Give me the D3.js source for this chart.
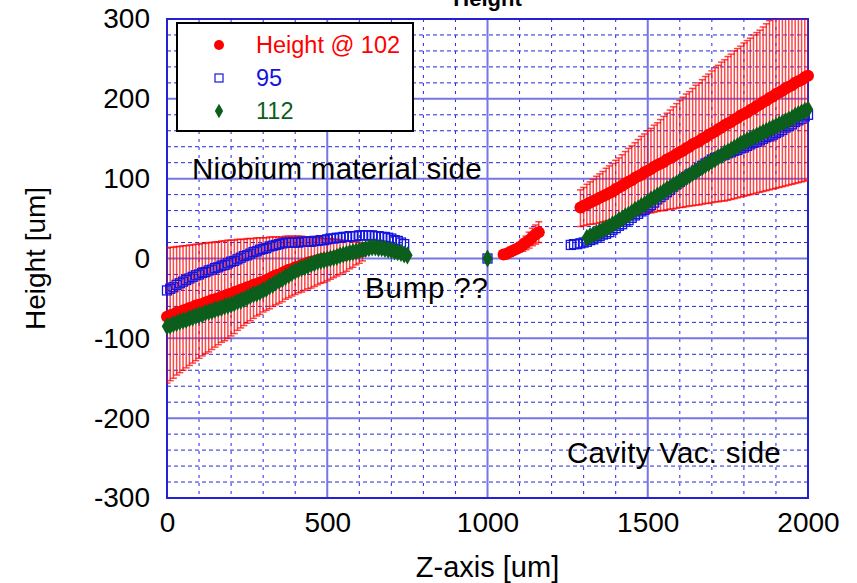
<!DOCTYPE html>
<html>
<head>
<meta charset="utf-8">
<script src="https://cdn.jsdelivr.net/npm/d3@7"></script>
<style>
  html, body { margin: 0; padding: 0; background: #fff; }
  svg { display: block; font-family: "Liberation Sans", Arial, Helvetica, sans-serif; }
</style>
</head>
<body>
<svg id="chart" width="857" height="583"></svg>
<script>
// Surface height profile along Z, three scans. Samples every 10 um.
const STEP = 10;

// "Height @ 102" with min/max bars
const red1Start = 0;
const red1 = [-73,-71,-70,-68,-67,-65,-64,-62,-61,-59,-58,-57,-55,-54,-52,-51,-50,-48,-47,-45,
  -44,-42,-41,-39,-38,-36,-35,-33,-32,-30,-29,-27,-25,-23,-21,-20,-18,-16,-14,-13,
  -11,-10,-8,-7,-5,-4,-3,-2,-1,0,0,1,2,3,4,4,5,6,7,7,8,9];
const red1Lo = [-156,-153,-150,-146,-143,-140,-137,-134,-131,-128,-125,-122,-119,-117,-114,-111,-108,-105,-103,-100,
  -97,-94,-90,-87,-84,-81,-78,-75,-72,-70,-67,-65,-63,-60,-58,-56,-54,-51,-49,-47,
  -45,-43,-42,-40,-38,-37,-35,-33,-31,-30,-28,-26,-24,-22,-20,-18,-16,-13,-11,-8,-6,-3];
const red1Hi = [13,14,14,15,15,16,16,17,17,18,18,19,19,20,20,21,21,22,22,23,
  23,23,24,24,24,25,25,25,26,26,26,26,27,27,27,27,27,28,28,28,
  28,28,28,27,27,27,27,26,26,25,25,25,24,24,23,23,22,22,21,21,20,19];

const red2Start = 1050;
const red2 = [5,6,8,10,12,14,17,20,23,27,30,33];
const red2Lo = [4,4,5,6,7,8,9,11,13,16,18,20];
const red2Hi = [6,8,11,14,17,20,24,28,33,38,42,46];

const red3Start = 1290;
const red3 = [64,66,68,70,72,74,76,78,80,82,84,87,89,91,94,96,98,101,103,105,
  108,110,112,115,117,119,121,124,126,128,131,133,135,138,140,143,145,147,150,152,
  155,157,159,162,164,167,169,171,174,176,179,181,183,186,188,191,193,196,198,201,
  203,206,208,210,213,215,217,220,222,224,227,229];
const red3Lo = [40,41,42,43,43,44,45,46,47,48,48,49,50,51,52,53,53,54,55,55,
  56,57,57,58,59,60,60,61,62,62,63,64,64,65,66,66,67,67,68,69,
  69,70,71,71,72,72,73,74,75,76,77,78,79,80,81,82,83,84,85,86,
  87,88,89,90,91,92,93,94,95,96,97,98];
const red3Hi = [86,89,93,96,99,103,106,109,113,116,119,123,126,130,134,138,141,145,149,153,
  156,160,163,167,170,174,178,182,186,190,194,198,202,206,209,213,217,220,224,228,
  231,235,239,242,246,249,253,256,260,263,266,270,273,276,280,283,286,290,294,298,
  301,305,308,312,315,319,322,326,329,333,336,340];

// "95"
const blue1Start = 0;
const blue1 = [-40,-38,-36,-33,-31,-29,-27,-25,-23,-21,-20,-18,-17,-15,-14,-12,-11,-9,-8,-6,
  -4,-3,-1,1,3,4,6,8,9,11,12,13,15,16,17,18,19,20,20,20,
  20,20,21,21,21,21,22,22,23,23,24,25,25,26,26,27,27,28,28,28,
  29,29,29,29,29,28,28,27,27,26,25,23,22,20,18];
const blueMidZ = [1000];
const blueMid = [0];
const blue3Start = 1260;
const blue3 = [17,18,18,19,20,21,23,24,26,28,30,31,33,36,38,41,43,46,48,51,
  54,56,59,61,64,67,70,74,77,80,83,86,90,93,96,99,102,105,107,110,
  113,116,119,121,124,126,127,129,130,132,133,135,136,138,139,141,143,145,146,148,
  150,152,153,155,157,159,161,164,166,168,171,173,175,178,180];

// "112"
const green1Start = 0;
const green1 = [-85,-84,-82,-81,-79,-78,-77,-75,-74,-72,-71,-70,-68,-67,-66,-64,-63,-62,-60,-59,
  -58,-56,-54,-53,-51,-49,-47,-45,-44,-42,-40,-38,-35,-33,-30,-28,-26,-23,-21,-18,
  -16,-14,-12,-11,-9,-7,-6,-4,-3,-2,-1,0,1,2,4,5,6,7,8,9,
  10,11,12,13,14,14,13,13,12,11,10,9,8,7,5,4];
const greenMidZ = [1000];
const greenMid = [0];
const green3Start = 1310;
const green3 = [26,28,30,32,34,36,38,40,43,45,48,50,53,55,58,61,63,66,68,71,
  74,76,79,81,84,87,89,92,94,97,99,102,104,107,109,112,114,117,119,122,
  124,127,129,132,134,136,139,141,144,146,148,150,152,154,156,158,160,162,164,166,
  168,170,172,174,176,179,181,183,185,187];

const seriesNames = ["Height @ 102", "95", "112"];
const seriesColors = ["#ff0000", "#1414e0", "#0b5e1c"];
const xTicks = [0, 500, 1000, 1500, 2000];
const yTicks = [-300, -200, -100, 0, 100, 200, 300];
const notes = [
  {text: "Niobium material side", z: 78, h: 100, spacing: 0.3},
  {text: "Bump ??", z: 618, h: -49, spacing: 0.8},
  {text: "Cavity Vac. side", z: 1248, h: -256, spacing: 0.3}
];

// ---- build point lists ----
function seg(start, vals, lo, hi) {
  return vals.map((v, i) => ({z: start + i * STEP, v, lo: lo ? lo[i] : null, hi: hi ? hi[i] : null}));
}
const redPts = [].concat(seg(red1Start, red1, red1Lo, red1Hi), seg(red2Start, red2, red2Lo, red2Hi), seg(red3Start, red3, red3Lo, red3Hi));
const bluePts = [].concat(seg(blue1Start, blue1), blueMidZ.map((z, i) => ({z, v: blueMid[i]})), seg(blue3Start, blue3));
const greenPts = [].concat(seg(green1Start, green1), greenMidZ.map((z, i) => ({z, v: greenMid[i]})), seg(green3Start, green3));

// ---- layout ----
const svg = d3.select("#chart");
const L = 167, R = 808, T = 19, B = 498;
const x = d3.scaleLinear().domain([0, 2000]).range([L, R]);
const y = d3.scaleLinear().domain([-300, 300]).range([B, T]);

const defs = svg.append("defs");
defs.append("clipPath").attr("id", "plotClip")
  .append("rect").attr("x", L).attr("y", T).attr("width", R - L).attr("height", B - T);

// minor grid: every 100 in Z, every 20 in height
const gMinor = svg.append("g").attr("stroke", "#2626dc").attr("stroke-width", 1).attr("stroke-dasharray", "4,3");
gMinor.selectAll("line.vx").data(d3.range(100, 2000, 100).filter(v => v % 500 !== 0)).join("line")
  .attr("x1", d => x(d)).attr("x2", d => x(d)).attr("y1", T).attr("y2", B).attr("stroke-dasharray", "3,5");
gMinor.selectAll("line.hy").data(d3.range(-280, 300, 20).filter(v => v % 100 !== 0)).join("line")
  .attr("y1", d => y(d)).attr("y2", d => y(d)).attr("x1", L).attr("x2", R);

// major grid
const gMajor = svg.append("g").attr("stroke", "#7676e4").attr("stroke-width", 2);
gMajor.selectAll("line.mx").data(xTicks.slice(1, -1)).join("line")
  .attr("x1", d => x(d)).attr("x2", d => x(d)).attr("y1", T).attr("y2", B);
gMajor.selectAll("line.my").data(yTicks.slice(1, -1)).join("line")
  .attr("y1", d => y(d)).attr("y2", d => y(d)).attr("x1", L).attr("x2", R);

// frame
svg.append("rect").attr("x", L).attr("y", T).attr("width", R - L).attr("height", B - T)
  .attr("fill", "none").attr("stroke", "#2222d4").attr("stroke-width", 2);

// axes (plain hyphen for negative numbers)
const fontAxis = 28;
const fmt = d => String(d);
const xAxis = svg.append("g").attr("transform", `translate(0,${B + 8})`)
  .call(d3.axisBottom(x).tickValues(xTicks).tickSize(0).tickPadding(6).tickFormat(fmt));
xAxis.select(".domain").remove();
xAxis.selectAll("text").attr("font-size", fontAxis).attr("fill", "#000").attr("font-family", "Liberation Sans, Arial, sans-serif");

const yAxis = svg.append("g").attr("transform", `translate(${L - 17},0)`)
  .call(d3.axisLeft(y).tickValues(yTicks).tickSize(0).tickPadding(0).tickFormat(fmt));
yAxis.select(".domain").remove();
yAxis.selectAll("text").attr("font-size", fontAxis).attr("fill", "#000").attr("font-family", "Liberation Sans, Arial, sans-serif");

svg.append("text").attr("x", (L + R) / 2).attr("y", 577).attr("text-anchor", "middle")
  .attr("font-size", 29).text("Z-axis [um]");
svg.append("text").attr("transform", `translate(45,${(T + B) / 2}) rotate(-90)`).attr("text-anchor", "middle")
  .attr("font-size", fontAxis).text("Height [um]");
svg.append("text").attr("x", (L + R) / 2).attr("y", 6).attr("text-anchor", "middle")
  .attr("font-size", 22).attr("font-weight", "bold").text("Height");

// annotations
svg.append("g").selectAll("text").data(notes).join("text")
  .attr("x", d => x(d.z)).attr("y", d => y(d.h))
  .attr("font-size", 29.5).attr("letter-spacing", d => d.spacing).attr("fill", "#000").text(d => d.text);

// red min/max bars
const gBars = svg.append("g").attr("clip-path", "url(#plotClip)")
  .attr("stroke", seriesColors[0]).attr("stroke-width", 1.5).attr("stroke-opacity", 0.72);
const barPts = redPts.filter(d => d.lo !== null);
gBars.selectAll("line.bar").data(barPts).join("line")
  .attr("x1", d => x(d.z)).attr("x2", d => x(d.z)).attr("y1", d => y(d.lo)).attr("y2", d => y(d.hi));
gBars.selectAll("line.capHi").data(barPts).join("line")
  .attr("x1", d => x(d.z) - 3.5).attr("x2", d => x(d.z) + 3.5).attr("y1", d => y(d.hi)).attr("y2", d => y(d.hi));
gBars.selectAll("line.capLo").data(barPts).join("line")
  .attr("x1", d => x(d.z) - 3.5).attr("x2", d => x(d.z) + 3.5).attr("y1", d => y(d.lo)).attr("y2", d => y(d.lo));

// markers
const circle = d3.symbol().type(d3.symbolCircle).size(Math.PI * 6 * 6);
const diamond = d3.symbol().type(d3.symbolDiamond).size(95);

svg.append("g").selectAll("path").data(redPts).join("path")
  .attr("transform", d => `translate(${x(d.z)},${y(d.v)})`).attr("d", circle).attr("fill", seriesColors[0]);
svg.append("g").selectAll("rect").data(bluePts).join("rect")
  .attr("x", d => x(d.z) - 4.5).attr("y", d => y(d.v) - 4.5).attr("width", 9).attr("height", 9)
  .attr("fill", "none").attr("stroke", seriesColors[1]).attr("stroke-width", 1.3);
svg.append("g").selectAll("path").data(greenPts).join("path")
  .attr("transform", d => `translate(${x(d.z)},${y(d.v)})`).attr("d", diamond).attr("fill", seriesColors[2]);

// legend
const lg = svg.append("g");
lg.append("rect").attr("x", 177).attr("y", 23).attr("width", 236).attr("height", 108)
  .attr("fill", "#fff").attr("stroke", "#000").attr("stroke-width", 2);
const rowsY = [45, 78, 111];
lg.append("path").attr("transform", `translate(219,${rowsY[0]})`).attr("d", d3.symbol().type(d3.symbolCircle).size(Math.PI * 25)).attr("fill", seriesColors[0]);
lg.append("rect").attr("x", 215).attr("y", rowsY[1] - 4).attr("width", 8).attr("height", 8)
  .attr("fill", "none").attr("stroke", seriesColors[1]).attr("stroke-width", 1.2);
lg.append("path").attr("transform", `translate(219,${rowsY[2]})`).attr("d", d3.symbol().type(d3.symbolDiamond).size(60)).attr("fill", seriesColors[2]);
lg.selectAll("text").data(seriesNames).join("text")
  .attr("x", 256).attr("y", (d, i) => rowsY[i] + 8).attr("font-size", 23.5)
  .attr("fill", (d, i) => seriesColors[i]).text(d => d);
</script>
</body>
</html>
